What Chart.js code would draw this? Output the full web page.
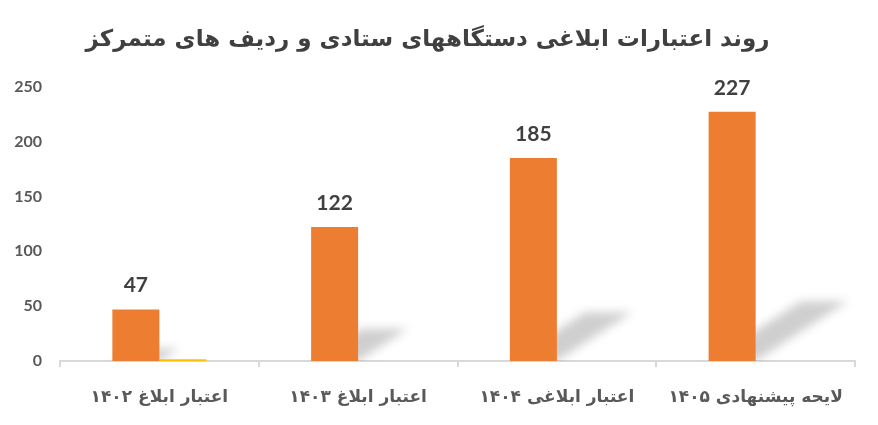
<!DOCTYPE html>
<html><head><meta charset="utf-8">
<script src="https://cdn.jsdelivr.net/npm/chart.js@4"></script>
<style>html,body{margin:0;padding:0;background:#fff}#wrap{width:878px;height:425px}</style>
</head><body><div id="wrap"><canvas id="c" width="878" height="425"></canvas></div>
<script>
const chartTitle = 'روند اعتبارات ابلاغی دستگاههای ستادی و ردیف های متمرکز';
const categories = ['اعتبار ابلاغ ۱۴۰۲', 'اعتبار ابلاغ ۱۴۰۳', 'اعتبار ابلاغی ۱۴۰۴', 'لایحه پیشنهادی ۱۴۰۵'];
const creditValues = [47, 122, 185, 227];
const minorValues = [1.5, 0, 0, 0];
const yTicks = [0, 50, 100, 150, 200, 250];

const shadowPlugin = {
  id: 'barShadow',
  beforeDatasetsDraw(chart) {
    const ctx = chart.ctx, area = chart.chartArea;
    const meta = chart.getDatasetMeta(0);
    meta.data.forEach(bar => {
      const p = bar.getProps(['x', 'y', 'base', 'width'], true);
      const h = p.base - p.y;
      const left = p.x - p.width / 2, right = p.x + p.width / 2;
      const dy = h * 0.24, dx = h * 0.37;
      ctx.save();
      ctx.beginPath();
      ctx.rect(area.left, area.top, area.right - area.left, area.bottom - area.top);
      ctx.clip();
      ctx.filter = 'blur(5px)';
      ctx.fillStyle = 'rgba(0,0,0,0.19)';
      ctx.beginPath();
      ctx.moveTo(left, p.base);
      ctx.lineTo(right, p.base);
      ctx.lineTo(right + dx, p.base - dy);
      ctx.lineTo(left + dx, p.base - dy);
      ctx.closePath();
      ctx.fill();
      ctx.restore();
    });
  }
};

const labelPlugin = {
  id: 'barLabels',
  afterDatasetsDraw(chart) {
    const ctx = chart.ctx;
    const meta = chart.getDatasetMeta(0);
    ctx.save();
    ctx.font = 'bold 21px Lato';
    ctx.fillStyle = '#404040';
    ctx.textAlign = 'center';
    ctx.textBaseline = 'middle';
    meta.data.forEach((bar, i) => {
      const p = bar.getProps(['x', 'y'], true);
      ctx.fillText(String(creditValues[i]), p.x, p.y - 24);
    });
    ctx.restore();
  }
};

new Chart(document.getElementById('c'), {
  type: 'bar',
  data: {
    labels: categories,
    datasets: [
      { data: creditValues, backgroundColor: '#ED7D31', categoryPercentage: 0.473, barPercentage: 1 },
      { data: minorValues, backgroundColor: '#FFC000', categoryPercentage: 0.473, barPercentage: 1 }
    ]
  },
  options: {
    responsive: false,
    animation: false,
    devicePixelRatio: 1,
    layout: { padding: { left: 0, right: 23, top: 0, bottom: 0 } },
    plugins: {
      legend: { display: false },
      tooltip: { enabled: false },
      title: {
        display: true,
        text: chartTitle,
        color: '#404040',
        font: { family: 'DejaVu Sans', weight: 'bold', size: 23 },
        padding: { top: 26, bottom: 33 }
      }
    },
    scales: {
      x: {
        afterFit(scale) { scale.height = 64; },
        grid: { display: true, drawOnChartArea: false, drawTicks: true, tickLength: 6, color: '#D9D9D9', lineWidth: 2, offset: true },
        border: { display: true, color: '#D9D9D9', width: 2 },
        ticks: { color: '#595959', font: { family: 'DejaVu Sans', weight: 'bold', size: 17 }, padding: 20, maxRotation: 0 }
      },
      y: {
        min: 0, max: 250,
        afterFit(scale) { scale.width = 60; },
        afterBuildTicks(scale) { scale.ticks = yTicks.map(v => ({ value: v })); },
        grid: { display: false, drawTicks: false },
        border: { display: false },
        ticks: { color: '#595959', font: { family: 'Lato', weight: 'bold', size: 16 }, padding: 18 }
      }
    }
  },
  plugins: [shadowPlugin, labelPlugin]
});
</script>
</body></html>
